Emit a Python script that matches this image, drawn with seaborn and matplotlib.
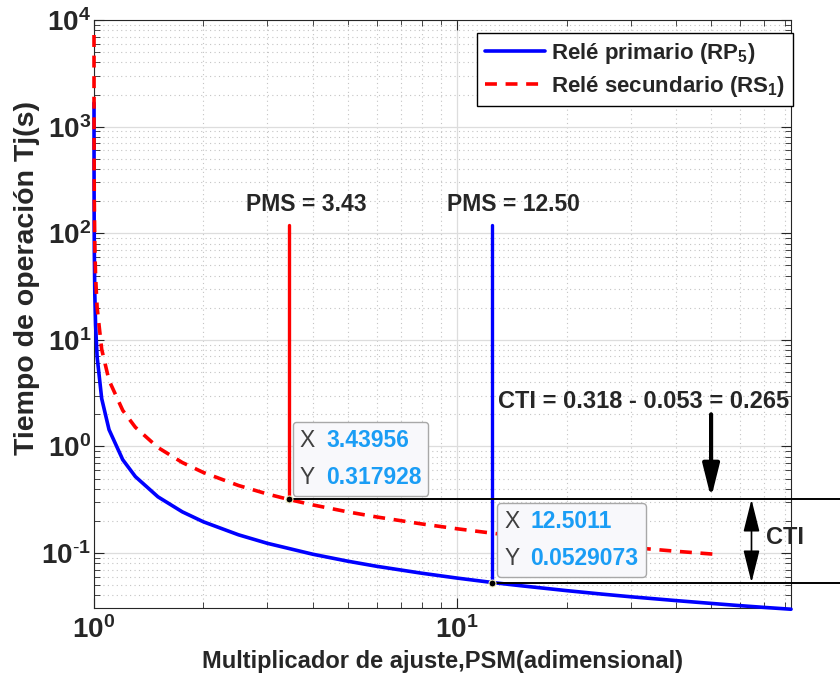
import matplotlib
matplotlib.use('Agg')
import matplotlib.pyplot as plt
from matplotlib.ticker import LogLocator, FixedLocator, FixedFormatter, NullFormatter
from matplotlib.offsetbox import TextArea, HPacker, VPacker, AnnotationBbox
import numpy as np
import pandas as pd
import seaborn as sns

# Curve values (PSM, time in s)
m_primario = [1.0000822, 1.0002, 1.0005, 1.001, 1.002, 1.005, 1.01, 1.02, 1.05, 1.1,
              1.2, 1.3, 1.5, 1.75, 2, 2.5, 3, 4, 5, 6, 8, 10, 12.5, 15, 20, 25,
              30, 40, 50, 60, 70, 83]
t_primario = [1667, 685, 274.2, 137.1, 68.6, 27.48, 13.78, 6.921, 2.808, 1.4367,
              0.7504, 0.5211, 0.3367, 0.2436, 0.1964, 0.1482, 0.1234, 0.0975, 0.0838,
              0.0751, 0.0646, 0.0582, 0.0529, 0.0493, 0.0444, 0.0412, 0.0389, 0.0358,
              0.0337, 0.0321, 0.0309, 0.0297]

m_secundario = [1.000055, 1.0002, 1.0005, 1.001, 1.002, 1.005, 1.01, 1.02, 1.05, 1.1,
                1.2, 1.3, 1.5, 1.75, 2, 2.5, 3, 3.44, 4, 5, 6, 8, 10, 12.5, 15, 20,
                25, 30, 40, 52]
t_secundario = [7230, 1988, 795, 397.9, 199.0, 79.72, 39.96, 20.08, 8.146, 4.168,
                2.177, 1.512, 0.9767, 0.7066, 0.5697, 0.4300, 0.3580, 0.3179, 0.2829,
                0.2431, 0.2180, 0.1873, 0.1688, 0.1535, 0.1429, 0.1288, 0.1196, 0.1130,
                0.1039, 0.0970]

# data tips
tip_x = [3.43956, 12.5011]
tip_y = [0.317928, 0.0529073]
tip_labels = ['3.43956', '0.317928', '12.5011', '0.0529073']
pms_labels = ['PMS = 3.43', 'PMS = 12.50']
pms_top = 120
cti_text = 'CTI = 0.318 - 0.053 = 0.265'

df_p = pd.DataFrame({'psm': m_primario, 't': t_primario})
df_s = pd.DataFrame({'psm': m_secundario, 't': t_secundario})

sns.set_style('ticks')
plt.rcParams['font.family'] = ['Liberation Sans', 'DejaVu Sans']
plt.rcParams['mathtext.fontset'] = 'custom'
plt.rcParams['mathtext.bf'] = 'Liberation Sans:bold'
plt.rcParams['mathtext.rm'] = 'Liberation Sans'
plt.rcParams['mathtext.default'] = 'bf'

fig = plt.figure(figsize=(8.4, 6.83), dpi=100)
ax = fig.add_axes([0.1119, 0.1098, 0.8298, 0.8609])

sns.lineplot(data=df_p, x='psm', y='t', ax=ax, color='#0000ff', lw=2.6,
             sort=False, estimator=None, label='Relé primario (RP$_5$)')
sns.lineplot(data=df_s, x='psm', y='t', ax=ax, color='#ff0000', lw=2.6,
             sort=False, estimator=None, label='Relé secundario (RS$_1$)',
             dashes=False)
ax.lines[1].set_dashes((3.3, 2.4))
for ln in ax.lines[:2]:
    ln.set_clip_on(False)
    ln.set_zorder(3)

ax.set_xscale('log')
ax.set_yscale('log')
ax.set_xlim(1, 83)
ax.set_ylim(0.0305, 1e4)

# PMS vertical lines
ax.plot([tip_x[0], tip_x[0]], [tip_y[0], pms_top], color='#ff0000', lw=2.4)
ax.plot([tip_x[1], tip_x[1]], [tip_y[1], pms_top], color='#0000ff', lw=2.4)

# horizontal reference lines running out of the axes
for x0, y0 in zip(tip_x, tip_y):
    ax.plot([x0, 140], [y0, y0], color='black', lw=1.4, clip_on=False, zorder=4)
ax.plot(tip_x, tip_y, 'o', ms=5, mfc='black', mec='#f3efc0', mew=0.8, zorder=6,
        clip_on=False)

ax.text(3.85, 185, pms_labels[0], ha='center', va='center', fontsize=16.5, fontweight='bold')
ax.text(14.3, 185, pms_labels[1], ha='center', va='center', fontsize=16.5, fontweight='bold')
ax.text(32.5, 2.63, cti_text, ha='center', va='center', fontsize=17, fontweight='bold')
ax.text(80, 0.14, 'CTI', ha='center', va='center', fontsize=17, fontweight='bold')

ax.annotate('', xy=(50, tip_y[0] * 1.03), xytext=(50, 2.0),
            arrowprops=dict(arrowstyle='-|>,head_length=1.0,head_width=0.25',
                            lw=3, color='black', mutation_scale=20, shrinkA=0, shrinkB=0))
ax.annotate('', xy=(64.6, tip_y[1]), xytext=(64.6, tip_y[0]),
            arrowprops=dict(arrowstyle='<|-|>,head_length=1.0,head_width=0.25',
                            lw=1.2, color='black', mutation_scale=20, shrinkA=0, shrinkB=0))

# data tip boxes
def data_tip(x, y, sx, sy, offset):
    rows = []
    for k, v in (('X', sx), ('Y', sy)):
        rows.append(HPacker(children=[
            TextArea(k, textprops=dict(color='#404040', fontsize=16.5, fontweight='normal')),
            TextArea(v, textprops=dict(color='#1a9df5', fontsize=16.5, fontweight='bold'))],
            align='baseline', pad=0, sep=8))
    box = VPacker(children=rows, align='left', pad=0, sep=10)
    ab = AnnotationBbox(box, (x, y), xybox=offset, xycoords='data',
                        boxcoords='offset points', box_alignment=(0, 0), pad=0.5,
                        bboxprops=dict(boxstyle='round,pad=0.5,rounding_size=0.25',
                                       fc='#f8f8fb', ec='#a8a8a8', lw=1), zorder=7)
    ax.add_artist(ab)

data_tip(tip_x[0], tip_y[0], tip_labels[0], tip_labels[1], (7.8, 7.8))
data_tip(tip_x[1], tip_y[1], tip_labels[2], tip_labels[3], (8.4, 9.0))

# ticks and grid in matlab style
ax.xaxis.set_major_locator(FixedLocator([1, 10]))
ax.xaxis.set_major_formatter(FixedFormatter([r'$\mathbf{10^{0}}$', r'$\mathbf{10^{1}}$']))
ax.xaxis.set_minor_locator(LogLocator(base=10, subs=np.arange(2, 10), numticks=20))
ax.xaxis.set_minor_formatter(NullFormatter())
ax.yaxis.set_major_locator(FixedLocator([0.1, 1, 10, 100, 1000, 10000]))
ax.yaxis.set_major_formatter(FixedFormatter([r'$\mathbf{10^{\text{-}1}}$', r'$\mathbf{10^{0}}$',
                                             r'$\mathbf{10^{1}}$', r'$\mathbf{10^{2}}$',
                                             r'$\mathbf{10^{3}}$', r'$\mathbf{10^{4}}$']))
ax.yaxis.set_minor_locator(LogLocator(base=10, subs=np.arange(2, 10), numticks=20))
ax.yaxis.set_minor_formatter(NullFormatter())

ax.tick_params(which='both', direction='in', top=True, right=True, colors='#262626')
ax.tick_params(which='major', length=7, width=0.8, labelsize=20)
ax.tick_params(axis='x', which='major', pad=6)
ax.tick_params(axis='y', which='major', pad=2)
ax.tick_params(which='minor', length=4, width=0.6)
ax.grid(which='major', color='#dddddd', lw=0.9, ls='-')
ax.grid(which='minor', color='#c4c4c4', lw=0.8, ls=(0, (1, 3)))
ax.set_axisbelow(True)
for sp in ax.spines.values():
    sp.set_color('#262626')
    sp.set_linewidth(0.8)
    sp.set_visible(True)

ax.set_xlabel('Multiplicador de ajuste,PSM(adimensional)', fontsize=17,
              fontweight='bold', color='#262626', labelpad=4)
ax.set_ylabel('Tiempo de operación Tj(s)', fontsize=20.5, fontweight='bold',
              color='#262626')
ax.yaxis.set_label_coords(-0.077, 0.561)

leg = ax.legend(loc='upper right', bbox_to_anchor=(1.003, 0.978), borderaxespad=0,
                fancybox=False, edgecolor='black', framealpha=1, fontsize=16,
                handlelength=2.7, handletextpad=0.3, labelspacing=0.35, borderpad=0.35)
for t in leg.get_texts():
    t.set_fontweight('bold')
leg.get_frame().set_linewidth(1)
leg.set_zorder(8)

fig.savefig('out.png', dpi=100)
